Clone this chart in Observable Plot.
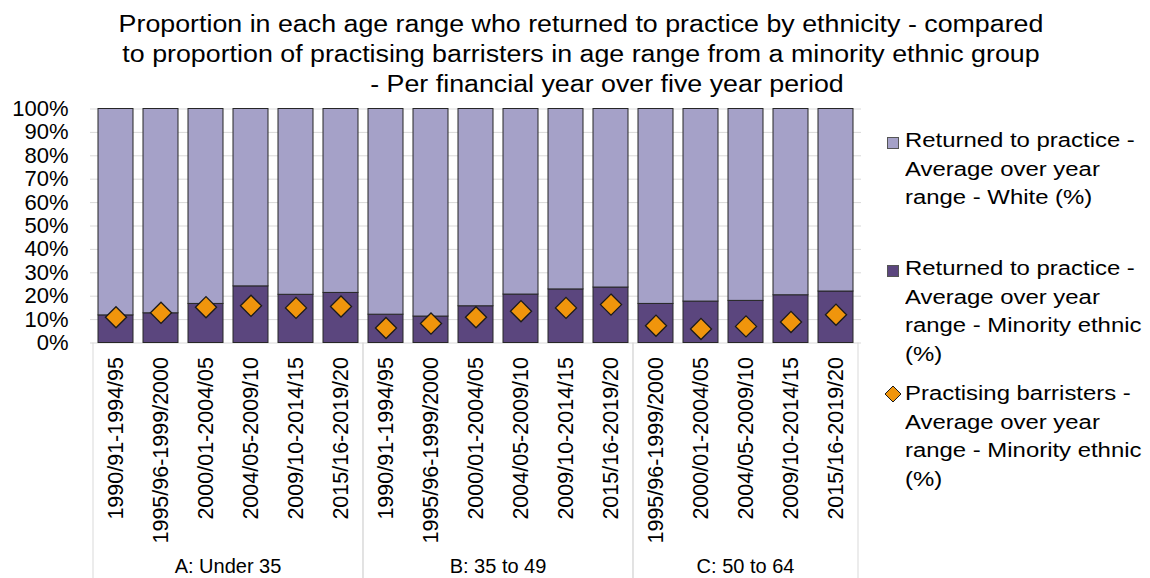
<!DOCTYPE html>
<html><head><meta charset="utf-8">
<script src="https://cdn.jsdelivr.net/npm/d3@7"></script>
<script src="https://cdn.jsdelivr.net/npm/@observablehq/plot@0.6"></script>
<style>
body{margin:0;width:1150px;height:578px;overflow:hidden;background:#fff;font-family:"Liberation Sans",Arial,sans-serif;color:#000;position:relative}
.tl{position:absolute;width:1000px;text-align:center;white-space:nowrap;font-size:23.5px;line-height:30px;transform:scaleX(1.14);transform-origin:50% 50%}
#chart{position:absolute;left:0;top:88px}
.lg{position:absolute;left:905px;white-space:nowrap;font-size:20px;line-height:28.5px;transform:scaleX(1.195);transform-origin:0 50%}
.sw{position:absolute;width:12px;height:12px;box-sizing:border-box;border:1px solid #555}
</style></head>
<body>
<div id="title"></div>
<div id="chart"></div>
<div id="legend"></div>
<script>
// ---- data ----
const titleLines = [
  "Proportion in each age range who returned to practice by ethnicity - compared",
  "to proportion of practising barristers in age range from a minority ethnic group",
  "- Per financial year over five year period"
];
const groupCodes = ["A","A","A","A","A","A","B","B","B","B","B","B","C","C","C","C","C"];
const groupNames = {A: "A: Under 35", B: "B: 35 to 49", C: "C: 50 to 64"};
const periods = [
  "1990/91-1994/95","1995/96-1999/2000","2000/01-2004/05","2004/05-2009/10","2009/10-2014/15","2015/16-2019/20",
  "1990/91-1994/95","1995/96-1999/2000","2000/01-2004/05","2004/05-2009/10","2009/10-2014/15","2015/16-2019/20",
  "1995/96-1999/2000","2000/01-2004/05","2004/05-2009/10","2009/10-2014/15","2015/16-2019/20"
];
const returnedMinority = [11.8,12.7,16.7,24.2,20.6,21.4, 12.1,11.3,15.7,20.7,22.9,23.7, 16.7,17.7,18.0,20.4,22.0];
const returnedWhite    = [88.2,87.3,83.3,75.8,79.4,78.6, 87.9,88.7,84.3,79.3,77.1,76.3, 83.3,82.3,82.0,79.6,78.0];
const practisingMinority = [11.0,12.9,15.3,15.9,15.0,15.6, 6.4,8.3,11.0,13.6,15.0,16.4, 7.4,6.0,7.1,9.0,12.1];
const yTicks = [0,10,20,30,40,50,60,70,80,90,100];
const seriesNames = [
  "Returned to practice - Average over year range - White (%)",
  "Returned to practice - Average over year range - Minority ethnic (%)",
  "Practising barristers - Average over year range - Minority ethnic (%)"
];
const legendLines = [
  ["Returned to practice -","Average over year","range - White (%)"],
  ["Returned to practice -","Average over year","range - Minority ethnic","(%)"],
  ["Practising barristers -","Average over year","range - Minority ethnic","(%)"]
];
const colors = {white: "#A5A1C8", minority: "#5B467E", practising: "#F0950C"};

// ---- build ----
const keys = periods.map((p, i) => groupCodes[i] + "|" + p);
const rows = [];
keys.forEach((k, i) => rows.push({key: k, series: seriesNames[1], value: returnedMinority[i]}));
keys.forEach((k, i) => rows.push({key: k, series: seriesNames[0], value: returnedWhite[i]}));
const dots = keys.map((k, i) => ({key: k, value: practisingMinority[i]}));

// title
const tCenters = [581, 581, 607];
const tTops = [9, 39, 69];
const tdiv = document.getElementById("title");
titleLines.forEach((t, i) => {
  const d = document.createElement("div");
  d.className = "tl";
  d.style.left = (tCenters[i] - 500) + "px";
  d.style.top = tTops[i] + "px";
  d.textContent = t;
  tdiv.appendChild(d);
});

function groupFrame(index, scales, values, dims) {
  const x = scales.x, y = scales.y;
  const bw = x.bandwidth();
  const step = x.step ? x.step() : (x(keys[1]) - x(keys[0]));
  const pad = (step - bw) / 2;
  const y0 = y(0);
  const g = d3.create("svg:g");
  g.append("line")
    .attr("x1", dims.marginLeft).attr("x2", dims.width - dims.marginRight)
    .attr("y1", y0 + 0.5).attr("y2", y0 + 0.5)
    .attr("stroke", "#d9d9d9");
  const codes = Array.from(new Set(groupCodes));
  codes.forEach(c => {
    const ks = keys.filter(k => k.startsWith(c + "|"));
    const left = x(ks[0]) - pad, right = x(ks[ks.length - 1]) + bw + pad;
    [left, right].forEach(xx => g.append("line")
      .attr("x1", xx).attr("x2", xx).attr("y1", y0).attr("y2", dims.height)
      .attr("stroke", "#d9d9d9"));
    g.append("text")
      .attr("x", (left + right) / 2).attr("y", dims.height - 5)
      .attr("text-anchor", "middle").attr("font-size", 20).attr("fill", "#000")
      .text(groupNames[c]);
  });
  return g.node();
}

const plot = Plot.plot({
  width: 870,
  height: 490,
  marginTop: 20.5,
  marginBottom: 235.5,
  marginLeft: 90,
  marginRight: 9,
  style: {fontFamily: "'Liberation Sans', Arial, sans-serif", background: "transparent", color: "#000", overflow: "visible"},
  x: {type: "band", domain: keys, paddingInner: 0.23, paddingOuter: 0.115, align: 0.5},
  y: {domain: [0, 100]},
  color: {domain: [seriesNames[1], seriesNames[0]], range: [colors.minority, colors.white]},
  marks: [
    Plot.gridY(yTicks.slice(1), {stroke: "#d9d9d9", strokeOpacity: 1, strokeWidth: 1}),
    groupFrame,
    Plot.barY(rows, {x: "key", y: "value", fill: "series", stroke: "#262626", strokeWidth: 1, inset: 0}),
    Plot.dot(dots, {x: "key", y: "value", symbol: "diamond2", r: 9.5, fill: colors.practising, stroke: "#1a1a1a", strokeWidth: 1.3}),
    Plot.axisY(yTicks, {tickSize: 0, tickPadding: 22, fontSize: 22, tickFormat: d => d + "%", label: null}),
    Plot.axisX({tickRotate: -90, tickSize: 0, tickPadding: 14, fontSize: 21.5, tickFormat: k => k.split("|")[1], label: null})
  ]
});
document.getElementById("chart").appendChild(plot);

// legend
const lg = document.getElementById("legend");
const lTops = [126, 254, 379];
legendLines.forEach((lines, i) => {
  const d = document.createElement("div");
  d.className = "lg";
  d.style.top = lTops[i] + "px";
  d.innerHTML = lines.join("<br>");
  lg.appendChild(d);
});
const sw1 = document.createElement("div"); sw1.className = "sw";
sw1.style.cssText += `left:887px;top:137px;background:${colors.white}`; lg.appendChild(sw1);
const sw2 = document.createElement("div"); sw2.className = "sw";
sw2.style.cssText += `left:887px;top:265px;background:${colors.minority}`; lg.appendChild(sw2);
const dm = document.createElementNS("http://www.w3.org/2000/svg", "svg");
dm.setAttribute("width", 20); dm.setAttribute("height", 20);
dm.style.cssText = "position:absolute;left:883px;top:384px";
dm.innerHTML = `<path d="M10,2 L18,10 L10,18 L2,10 Z" fill="${colors.practising}" stroke="#1a1a1a" stroke-width="1"/>`;
lg.appendChild(dm);
</script>
</body></html>
